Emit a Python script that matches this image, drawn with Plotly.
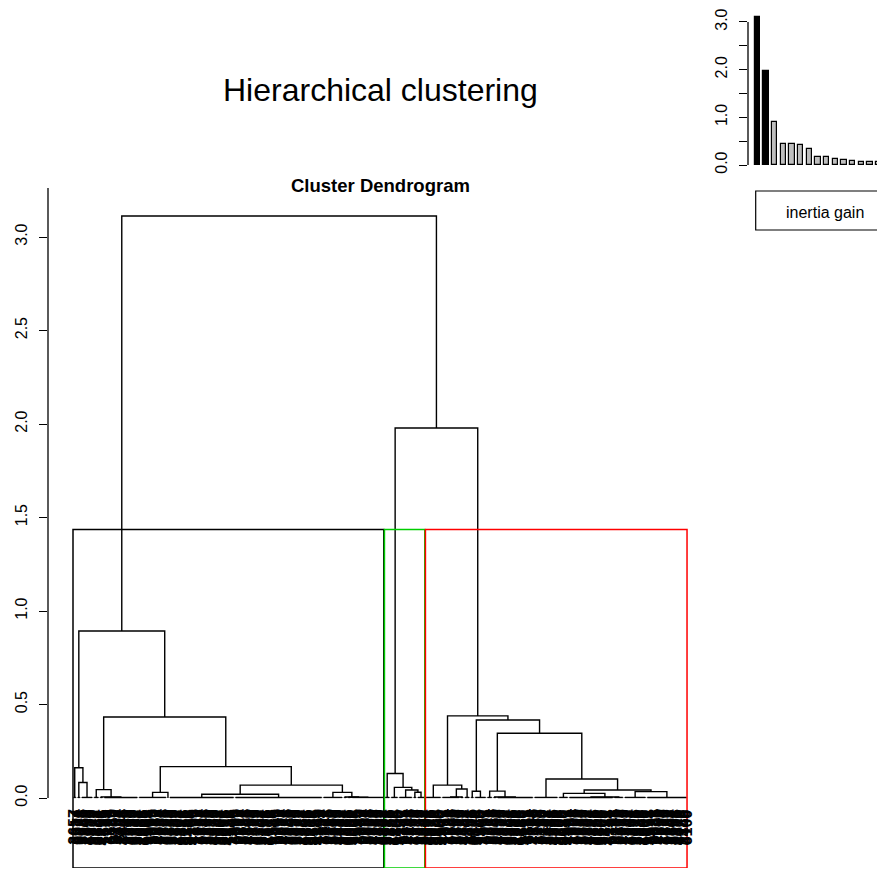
import plotly.graph_objects as go

# ---- data -------------------------------------------------------------
# Tree nodes are [merge_height, left, right]; a bare int is a bundle of that
# many leaves fused at (almost) zero height.
black_tree = [0.893,
              [0.162, 2, [0.083, 2, 6]],
              [0.433,
               [0.045, 3, [0.006, 2, 17]],
               [0.168,
                [0.030, 14, 1],
                [0.069,
                 [0.020, 32, 43],
                 [0.030, 10, [0.005, 2, [0.004, 2, 16]]]]]]]

green_tree = [0.131, 3, [0.057, 4, [0.043, 7, [0.031, 2, 4]]]]

red_tree = [0.439,
            [0.069, 8, [0.048, [0.005, 9, 2], 3]],
            [0.417,
             [0.036, 2, 6],
             [0.346,
              [0.037, 3, [0.005, 2, 18]],
              [0.102, 12,
               [0.043,
                [0.025, 5, [0.005, 22, 5]],
                [0.034, 11, 20]]]]]]

upper_merges = [3.112, 1.979]          # root, then green+red
cluster_trees = [black_tree, green_tree, red_tree]
cluster_colors = ["#000000", "#00CD00", "#FF0000"]

inertia_gain = [3.112, 1.979, 0.893, 0.439, 0.433, 0.417, 0.346, 0.168,
                0.162, 0.131, 0.102, 0.083, 0.069, 0.069, 0.057]
n_clusters = 3

BUNDLE_H = 0.003
FONT = "Liberation Sans, Arial, sans-serif"
W, H = 877, 869


def count_leaves(node):
    if isinstance(node, int):
        return node
    return count_leaves(node[1]) + count_leaves(node[2])


n_leaves = sum(count_leaves(t) for t in cluster_trees)
# individual identifiers, listed in dendrogram order
leaf_labels = [str(1000 + (k * 2657) % 9000) for k in range(1, n_leaves + 1)]

# ---- dendrogram geometry (hclust-style layout) -------------------------
xs, ys = [], []


def seg(pts):
    for px, py in pts:
        xs.append(px)
        ys.append(py)
    xs.append(None)
    ys.append(None)


def lay(node, start):
    """Return (x position, height, next free leaf index)."""
    if isinstance(node, int):
        if node == 1:
            return float(start), 0.0, start + 1
        last = start + node - 1
        for i in range(start, last + 1):
            seg([(i, 0.0), (i, BUNDLE_H)])
        seg([(start, BUNDLE_H), (last, BUNDLE_H)])
        return (start + last) / 2.0, BUNDLE_H, last + 1
    h, left, right = node
    xl, hl, s = lay(left, start)
    xr, hr, s = lay(right, s)
    seg([(xl, hl), (xl, h), (xr, h), (xr, hr)])
    return (xl + xr) / 2.0, h, s


xb, hb, nxt = lay(black_tree, 1)
xg, hg, nxt = lay(green_tree, nxt)
xr_, hr_, nxt = lay(red_tree, nxt)
seg([(xg, hg), (xg, upper_merges[1]), (xr_, upper_merges[1]), (xr_, hr_)])
x_gr = (xg + xr_) / 2.0
seg([(xb, hb), (xb, upper_merges[0]), (x_gr, upper_merges[0]), (x_gr, upper_merges[1])])

# ---- axes geometry ----------------------------------------------------
px_per_leaf = 2.049
x_lo = 1 - (73.7 - 48) / px_per_leaf
x_hi = 1 + (711 - 73.7) / px_per_leaf
y_unit = 187.0
y_lo = -(868 - 798) / y_unit
y_hi = (798 - 188) / y_unit

fig = go.Figure()
fig.add_trace(go.Scatter(x=xs, y=ys, mode="lines",
                         line=dict(color="black", width=1.4),
                         hoverinfo="skip", showlegend=False,
                         xaxis="x", yaxis="y"))

# inset bar chart of inertia gains
bar_colors = ["black"] * (n_clusters - 1) + ["#BEBEBE"] * (len(inertia_gain) - n_clusters + 1)
fig.add_trace(go.Bar(x=list(range(1, len(inertia_gain) + 1)), y=inertia_gain,
                     width=0.62, marker=dict(color=bar_colors,
                                             line=dict(color="black", width=1.2)),
                     showlegend=False, hoverinfo="skip",
                     xaxis="x2", yaxis="y2"))

shapes = []
# cluster rectangles
cut_h = (upper_merges[1] + black_tree[0]) / 2.0
first = 1
for tree, col in zip(cluster_trees, cluster_colors):
    last = first + count_leaves(tree) - 1
    shapes.append(dict(type="rect", xref="x", yref="y",
                       x0=first - 0.34, x1=last + 0.33, y0=y_lo, y1=cut_h,
                       line=dict(color=col, width=1.5), fillcolor="rgba(0,0,0,0)"))
    first = last + 1

# y-axis lines
shapes.append(dict(type="line", xref="paper", yref="y", x0=48 / W, x1=48 / W,
                   y0=0, y1=y_hi, line=dict(color="black", width=1.3)))
shapes.append(dict(type="line", xref="paper", yref="y2", x0=748 / W, x1=748 / W,
                   y0=0, y1=3.0, line=dict(color="black", width=1.3)))
# legend frame
shapes.append(dict(type="rect", xref="paper", yref="paper",
                   x0=755.7 / W, x1=900 / W, y0=1 - 230 / H, y1=1 - 191 / H,
                   line=dict(color="black", width=1.2)))

annotations = []
for i, lab in enumerate(leaf_labels, start=1):
    annotations.append(dict(x=i, y=-10 / y_unit, xref="x", yref="y",
                            text="<b>" + lab + "</b>",
                            textangle=-90, showarrow=False, xanchor="center",
                            yanchor="top", borderpad=0,
                            font=dict(family=FONT, size=16, color="black")))

annotations += [
    dict(x=380 / W, y=1 - 90 / H, xref="paper", yref="paper",
         text="Hierarchical clustering", showarrow=False,
         xanchor="center", yanchor="middle",
         font=dict(family=FONT, size=32, color="black")),
    dict(x=380.5 / W, y=1 - 186 / H, xref="paper", yref="paper",
         text="<b>Cluster Dendrogram</b>", showarrow=False,
         xanchor="center", yanchor="middle",
         font=dict(family=FONT, size=18.5, color="black")),
    dict(x=825 / W, y=1 - 212 / H, xref="paper", yref="paper",
         text="inertia gain", showarrow=False,
         xanchor="center", yanchor="middle",
         font=dict(family=FONT, size=16, color="black")),
]

tick_font = dict(family=FONT, size=16, color="black")
fig.update_layout(
    width=W, height=H, margin=dict(l=0, r=0, t=0, b=0),
    paper_bgcolor="white", plot_bgcolor="white",
    xaxis=dict(domain=[48 / W, 711 / W], range=[x_lo, x_hi], visible=False),
    yaxis=dict(domain=[1 - 868 / H, 1 - 188 / H], range=[y_lo, y_hi],
               showgrid=False, zeroline=False, showline=False,
               tickvals=[0, 0.5, 1, 1.5, 2, 2.5, 3],
               ticktext=["0.0", "0.5", "1.0", "1.5", "2.0", "2.5", "3.0"],
               ticks="outside", ticklen=8, tickwidth=1.3, tickcolor="black",
               tickangle=-90, tickfont=tick_font, ticklabelstandoff=6),
    xaxis2=dict(domain=[748 / W, 1.0], range=[-0.071, 14.79], visible=False,
                anchor="y2"),
    yaxis2=dict(domain=[1 - 175 / H, 1.0], anchor="x2",
                range=[-10 / 47.67, 165 / 47.67],
                showgrid=False, zeroline=False, showline=False,
                tickvals=[0, 0.5, 1, 1.5, 2, 2.5, 3],
                ticktext=["0.0", "", "1.0", "", "2.0", "", "3.0"],
                ticks="outside", ticklen=8, tickwidth=1.3, tickcolor="black",
                tickangle=-90, tickfont=tick_font, ticklabelstandoff=6),
    shapes=shapes, annotations=annotations, bargap=0,
)

fig.write_html("out.html")
